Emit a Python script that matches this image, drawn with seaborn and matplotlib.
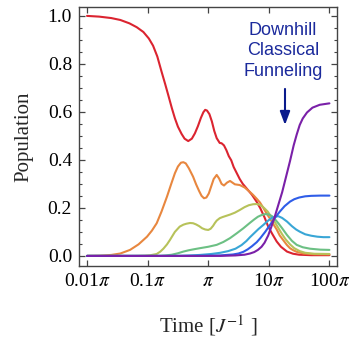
import numpy as np
import matplotlib
matplotlib.use('Agg')
import matplotlib.pyplot as plt
import matplotlib.ticker as mticker
import seaborn as sns

# ============================================================
# DATA (x given as log10(t / pi))
# ============================================================
red_u = [-2.0, -1.8, -1.6, -1.45, -1.3, -1.18, -1.07, -0.98, -0.91, -0.84, -0.77, -0.71,
         -0.66, -0.6, -0.55, -0.5, -0.44, -0.39, -0.33, -0.27, -0.22, -0.17, -0.12, -0.08,
         -0.05, -0.02, 0.02, 0.06, 0.1, 0.14, 0.19, 0.22, 0.26, 0.30, 0.34, 0.38, 0.42,
         0.47, 0.52, 0.57, 0.62, 0.67, 0.72, 0.76, 0.80, 0.86, 0.93, 0.99, 1.06, 1.13,
         1.2, 1.3, 1.4, 1.5, 1.7, 2.0]
red_v = [0.999, 0.996, 0.990, 0.982, 0.968, 0.952, 0.932, 0.905, 0.875, 0.83, 0.767, 0.715,
         0.67, 0.615, 0.573, 0.538, 0.508, 0.488, 0.478, 0.488, 0.51, 0.54, 0.575, 0.598,
         0.608, 0.605, 0.59, 0.56, 0.52, 0.49, 0.47, 0.469, 0.46, 0.44, 0.415, 0.398, 0.37,
         0.345, 0.32, 0.30, 0.285, 0.27, 0.255, 0.24, 0.225, 0.198, 0.16, 0.122, 0.09, 0.06,
         0.038, 0.018, 0.009, 0.005, 0.003, 0.003]

orange_u = [-2.0, -1.8, -1.6, -1.45, -1.29, -1.15, -1.01, -0.93, -0.85, -0.77, -0.68, -0.61,
            -0.55, -0.5, -0.45, -0.41, -0.37, -0.32, -0.25, -0.2, -0.15, -0.11, -0.07, -0.03,
            0.01, 0.05, 0.09, 0.14, 0.18, 0.22, 0.26, 0.31, 0.36, 0.4, 0.44, 0.52, 0.6, 0.68,
            0.74, 0.8, 0.855, 0.91, 0.96, 1.02, 1.08, 1.13, 1.18, 1.24, 1.3, 1.35, 1.4, 1.46,
            1.57, 1.75, 2.0]
orange_v = [0.0, 0.001, 0.004, 0.01, 0.025, 0.048, 0.08, 0.105, 0.136, 0.185, 0.247, 0.3,
            0.344, 0.372, 0.388, 0.39, 0.385, 0.365, 0.33, 0.298, 0.27, 0.25, 0.24, 0.243,
            0.26, 0.29, 0.32, 0.337, 0.322, 0.3, 0.293, 0.305, 0.312, 0.305, 0.298, 0.295,
            0.285, 0.268, 0.254, 0.238, 0.222, 0.2, 0.178, 0.155, 0.13, 0.11, 0.085, 0.065,
            0.045, 0.032, 0.024, 0.017, 0.01, 0.007, 0.006]

olive_u = [-2.0, -1.2, -1.05, -0.95, -0.85, -0.79, -0.74, -0.68, -0.63, -0.55, -0.47, -0.41,
           -0.36, -0.3, -0.25, -0.2, -0.15, -0.1, -0.05, 0.0, 0.04, 0.08, 0.11, 0.14, 0.19,
           0.24, 0.3, 0.36, 0.44, 0.52, 0.6, 0.67, 0.74, 0.8, 0.86, 0.92, 0.98, 1.04, 1.1,
           1.16, 1.22, 1.28, 1.35, 1.42, 1.51, 1.6, 1.75, 2.0]
olive_v = [0.0, 0.0, 0.001, 0.003, 0.008, 0.018, 0.03, 0.048, 0.067, 0.1, 0.122, 0.13,
           0.134, 0.137, 0.136, 0.131, 0.124, 0.115, 0.11, 0.108, 0.113, 0.125, 0.137, 0.147,
           0.157, 0.162, 0.167, 0.172, 0.18, 0.191, 0.203, 0.211, 0.215, 0.216, 0.212, 0.2,
           0.185, 0.163, 0.14, 0.115, 0.09, 0.068, 0.048, 0.032, 0.02, 0.013, 0.009, 0.008]

green_u = [-2.0, -0.8, -0.7, -0.6, -0.5, -0.41, -0.33, -0.25, -0.14, 0.0, 0.14, 0.25, 0.36,
           0.47, 0.58, 0.69, 0.76, 0.82, 0.88, 0.94, 0.99, 1.05, 1.1, 1.16, 1.22, 1.3, 1.38,
           1.46, 1.56, 1.68, 1.85, 2.0]
green_v = [0.0, 0.0, 0.002, 0.005, 0.011, 0.018, 0.023, 0.027, 0.032, 0.038, 0.046, 0.058,
           0.074, 0.094, 0.115, 0.138, 0.152, 0.163, 0.17, 0.174, 0.173, 0.166, 0.153, 0.135,
           0.115, 0.087, 0.063, 0.046, 0.036, 0.03, 0.026, 0.025]

teal_u = [-2.0, -0.5, -0.3, -0.14, 0.05, 0.2, 0.33, 0.45, 0.55, 0.63, 0.69, 0.76, 0.83,
          0.91, 0.98, 1.04, 1.1, 1.16, 1.22, 1.3, 1.38, 1.45, 1.51, 1.6, 1.7, 1.8, 1.9, 2.0]
teal_v = [0.0, 0.0, 0.002, 0.004, 0.008, 0.013, 0.02, 0.03, 0.045, 0.062, 0.078, 0.095,
          0.112, 0.129, 0.145, 0.157, 0.164, 0.165, 0.158, 0.143, 0.124, 0.11, 0.101, 0.09,
          0.084, 0.08, 0.078, 0.078]

blue_u = [-2.0, -0.2, 0.2, 0.41, 0.5, 0.58, 0.65, 0.72, 0.8, 0.86, 0.94, 1.02, 1.1, 1.18,
          1.26, 1.35, 1.42, 1.5, 1.6, 1.7, 1.85, 2.0]
blue_v = [0.0, 0.0, 0.002, 0.006, 0.01, 0.017, 0.027, 0.04, 0.057, 0.074, 0.1, 0.129, 0.158,
          0.184, 0.207, 0.226, 0.236, 0.243, 0.248, 0.25, 0.251, 0.251]

purple_u = [-2.0, 0.2, 0.45, 0.6, 0.69, 0.76, 0.82, 0.88, 0.93, 0.99, 1.04, 1.1, 1.16, 1.22,
            1.28, 1.35, 1.41, 1.46, 1.51, 1.56, 1.63, 1.72, 1.84, 2.0]
purple_v = [0.0, 0.0, 0.002, 0.005, 0.01, 0.016, 0.025, 0.038, 0.055, 0.085, 0.12, 0.165,
            0.215, 0.265, 0.325, 0.395, 0.46, 0.505, 0.545, 0.572, 0.597, 0.617, 0.629, 0.635]

series = [
    (red_u, red_v, '#db2430'),
    (orange_u, orange_v, '#e8873f'),
    (olive_u, olive_v, '#b7c25a'),
    (green_u, green_v, '#6cc084'),
    (teal_u, teal_v, '#39a6d6'),
    (blue_u, blue_v, '#2f5de8'),
    (purple_u, purple_v, '#7a20a8'),
]

tick_exps = [-2, -1, 0, 1, 2]
tick_labels = [r'0.01$\pi$', r'0.1$\pi$', r'$\pi$', r'10$\pi$', r'100$\pi$']

# ============================================================
# PLOT
# ============================================================
sns.set_style('ticks')
plt.rcParams['font.family'] = ['Liberation Serif', 'DejaVu Serif']
plt.rcParams['mathtext.fontset'] = 'stix'

fig = plt.figure(figsize=(3.49, 3.54), dpi=100)
ax = fig.add_axes([0.2264, 0.2486, 0.7392, 0.7316])

for u, v, c in series:
    t = np.pi * 10.0 ** np.asarray(u)
    sns.lineplot(x=t, y=v, color=c, linewidth=1.5, ax=ax, sort=False)

ax.set_xscale('log')
ax.set_xlim(np.pi * 10 ** -2.132, np.pi * 10 ** 2.125)
ax.set_ylim(-0.042, 1.036)

ax.xaxis.set_major_locator(mticker.FixedLocator([np.pi * 10.0 ** e for e in tick_exps]))
ax.xaxis.set_major_formatter(mticker.FixedFormatter(tick_labels))
ax.xaxis.set_minor_locator(mticker.NullLocator())
ax.yaxis.set_major_locator(mticker.MultipleLocator(0.2))
ax.yaxis.set_minor_locator(mticker.MultipleLocator(0.05))
ax.yaxis.set_major_formatter(mticker.FormatStrFormatter('%.1f'))

ax.tick_params(which='both', direction='in', top=True, right=True, colors='#444444',
               labelcolor='black', labelsize=14)
ax.tick_params(which='major', length=4.5, width=0.9, pad=5)
ax.tick_params(which='minor', length=2.5, width=0.8)
for s in ax.spines.values():
    s.set_color('#444444')
    s.set_linewidth(1.0)

ax.set_xlabel(r'Time [$J^{-1}$ ]', fontsize=15, labelpad=17)
ax.set_ylabel('Population', fontsize=15, labelpad=10)

ax.text(np.pi * 10 ** 1.234, 0.853, 'Downhill\nClassical\nFunneling', color='#1b2a9c',
        fontsize=13, family=['Liberation Sans', 'DejaVu Sans'], ha='center', va='center',
        linespacing=1.3)
ax.annotate('', xy=(np.pi * 10 ** 1.267, 0.545), xytext=(np.pi * 10 ** 1.267, 0.695),
            arrowprops=dict(arrowstyle='-|>,head_width=0.3,head_length=0.8', color='#0a1a8c',
                            lw=1.5, shrinkA=0, shrinkB=0))

fig.savefig('out.png', dpi=100)
